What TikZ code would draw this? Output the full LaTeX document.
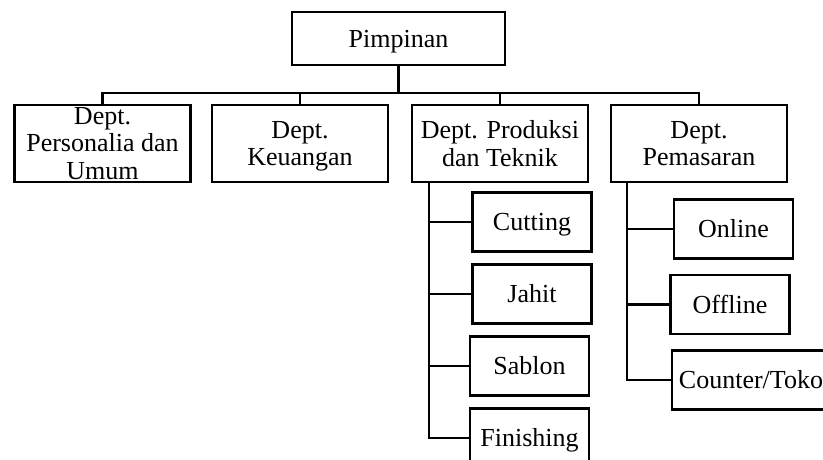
\documentclass[tikz,border=0pt]{standalone}
\usepackage{fontspec}
\setmainfont{Liberation Serif}
\usepackage{tikz}

\begin{document}
\begin{tikzpicture}[x=1pt, y=-1pt, node distance=72pt, auto,
    box/.style={draw, rectangle, line width=2.2pt, align=center, inner xsep=7pt, inner ysep=2pt,
                font=\fontsize{26pt}{27.5pt}\selectfont},
    dept/.style={box, minimum width=176pt, minimum height=77pt},
    unit/.style={box, minimum width=119pt, minimum height=59pt, text height=19pt, text depth=2pt},
    link/.style={line width=2.3pt}]
    \useasboundingbox (0,0) rectangle (823,459);

    \node [box, minimum width=213pt, minimum height=53pt, text height=19pt, text depth=2pt] (pimpinan) at (398.5,38.5) {Pimpinan};
    \node [dept, below of=pimpinan, xshift=101.5pt, yshift=-33pt] (produksi) {Dept. Produksi\\dan Teknik};
    \node [dept, left of=produksi, xshift=-128pt, text depth=0pt] (keuangan) {Dept.\\Keuangan};
    \node [dept, left of=keuangan, xshift=-125.5pt] (personalia) {Dept.\\Personalia dan\\Umum};
    \node [dept, right of=produksi, xshift=127pt] (pemasaran) {Dept.\\Pemasaran};

    \node [unit, below of=produksi, xshift=32pt, yshift=-6.5pt] (cutting) {Cutting};
    \node [unit, below of=cutting] (jahit) {Jahit};
    \node [unit, below of=jahit, xshift=-2.5pt] (sablon) {Sablon};
    \node [unit, below of=sablon] (finishing) {Finishing};

    \node [unit, below of=pemasaran, xshift=34.5pt, yshift=-13.5pt] (online) {Online};
    \node [unit, below of=online, xshift=-3.5pt, yshift=-3.5pt] (offline) {Offline};
    \node [unit, below of=offline, xshift=21pt, yshift=-3.5pt] (toko) {Counter/Toko};

    \coordinate (bus) at ([yshift=-27pt]pimpinan.south);
    \coordinate (prodspine) at ([xshift=18pt]produksi.south west);
    \coordinate (pemspine) at ([xshift=17pt]pemasaran.south west);

    \draw [link] (pimpinan.south) -- (bus);
    \draw [link] (personalia.north) |- (bus) -| (pemasaran.north);
    \draw [link] (keuangan.north) -- (keuangan.north |- bus);
    \draw [link] (produksi.north) -- (produksi.north |- bus);

    \draw [link] (prodspine) |- (finishing.west);
    \draw [link] (prodspine |- cutting.west) -- (cutting.west);
    \draw [link] (prodspine |- jahit.west) -- (jahit.west);
    \draw [link] (prodspine |- sablon.west) -- (sablon.west);

    \draw [link] (pemspine) |- (toko.west);
    \draw [link] (pemspine |- online.west) -- (online.west);
    \draw [link] (pemspine |- offline.west) -- (offline.west);
\end{tikzpicture}
\end{document}
